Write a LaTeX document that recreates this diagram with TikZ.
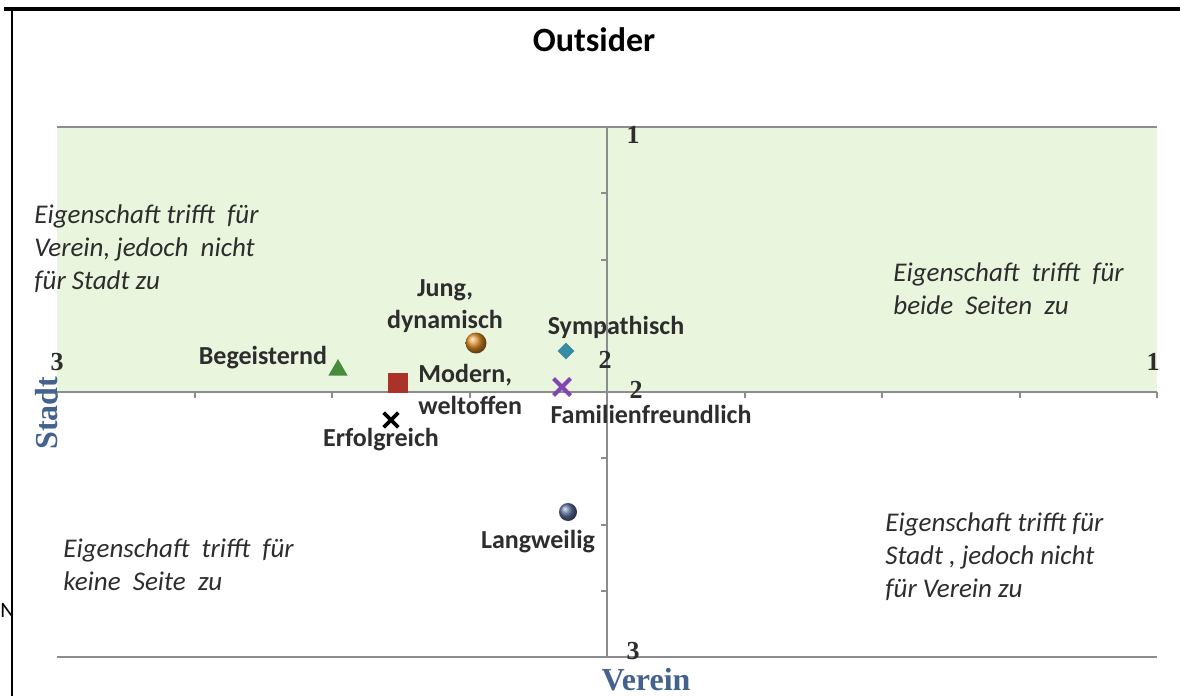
\documentclass[tikz,border=0pt]{standalone}
\usepackage{fontspec}
\setmainfont{Carlito}
\newfontfamily\axisfont{Liberation Serif}
\usepackage{tikz}
\usetikzlibrary{positioning}
\usetikzlibrary{shapes.geometric}
\usetikzlibrary{shapes.misc}

\definecolor{band}{RGB}{234,245,222}
\definecolor{axisgray}{RGB}{140,140,140}
\definecolor{axisblue}{RGB}{68,98,142}
\definecolor{labelgray}{RGB}{45,45,45}

\tikzset{
	lbl/.style={font=\fontsize{13}{16}\selectfont\bfseries, text=labelgray, inner sep=0pt, align=center},
	quad/.style={font=\fontsize{13.5}{16.5}\selectfont\itshape, text=labelgray, align=left, anchor=north west, inner sep=0pt},
	num/.style={font=\axisfont\fontsize{13}{13}\selectfont\bfseries, text=labelgray, inner sep=0pt},
	axlbl/.style={font=\axisfont\fontsize{16}{16}\selectfont\bfseries, text=axisblue, inner sep=0pt},
	axline/.style={draw=axisgray, line width=1pt},
}

\begin{document}
\begin{tikzpicture}[x=0.5pt,y=-0.5pt]
	\useasboundingbox (0,0) rectangle (1180,696);

	% Stray letter %
	\node (stray) [anchor=west, inner sep=0pt, font=\fontsize{11}{11}\selectfont] at (0,610) {N};
	% Frame %
	\draw [line width=1.6pt] (4,9) -- (1180,9);
	\draw [line width=1pt] (12,9) -- (12,696);
	% Title %
	\node (title) [font=\fontsize{17}{17}\selectfont\bfseries] at (594,40) {Outsider};

	% Band %
	\fill [band] (57,127) rectangle (1157,392);
	% Axes %
	\draw [axline] (57,127) -- (1157,127);
	\draw [axline] (57,657) -- (1157,657);
	\draw [axline] (57,392) -- (1157,392);
	\draw [axline] (607,127) -- (607,657);
	\foreach \i in {0,...,8} {
		\draw [axline] (57+137.5*\i,392) -- ++(0,6);
		\draw [axline] (607,127+66.25*\i) -- ++(-6,0);
	}
	% Axis numbers %
	\node (xleft) [num] at (57,362) {3};
	\node (xright) [num] at (1153,362) {1};
	\node (xmid) [num] at (605,360) {2};
	\node (ytop) [num] at (633,135) {1};
	\node (ymid) [num] at (636,390) {2};
	\node (ybot) [num] at (633,651) {3};
	\node (stadt) [axlbl, rotate=90] at (47,413) {Stadt};
	\node (verein) [axlbl] at (646,680) {Verein};

	% Quadrants %
	\node (qtl) [quad] at (34,204) {Eigenschaft trifft~ für\\Verein, jedoch~ nicht\\für Stadt zu};
	\node (qtr) [quad] at (893,262) {Eigenschaft~ trifft~ für\\beide~ Seiten~ zu};
	\node (qbl) [quad] at (63,538) {Eigenschaft~ trifft~ für\\keine~ Seite~ zu};
	\node (qbr) [quad] at (885,512) {Eigenschaft trifft für\\Stadt , jedoch nicht\\für Verein zu};

	% Markers %
	\node (mbeg) [regular polygon, regular polygon sides=3, fill={rgb,255:red,70;green,140;blue,60}, inner sep=0pt, minimum size=11pt] at (338,370) {};
	\node (mmod) [rectangle, fill={rgb,255:red,170;green,50;blue,40}, inner sep=0pt, minimum size=10pt] at (398,383) {};
	\node (mjung) [circle, ball color={rgb,255:red,220;green,140;blue,40}, inner sep=0pt, minimum size=10.5pt] at (476,343) {};
	\node (msym) [diamond, fill={rgb,255:red,55;green,140;blue,165}, inner sep=0pt, minimum size=8.5pt] at (566,351) {};
	\node (mfam) [cross out, draw={rgb,255:red,130;green,70;blue,180}, line width=2pt, inner sep=0pt, minimum size=6.5pt] at (562,387) {};
	\node (merf) [cross out, draw=black, line width=1.8pt, inner sep=0pt, minimum size=5.5pt] at (391,420) {};
	\node (mlang) [circle, ball color={rgb,255:red,90;green,110;blue,155}, inner sep=0pt, minimum size=9pt] at (568,512) {};

	% Labels %
	\node (tbeg) [lbl] at (263,358) {Begeisternd};
	\node (tjung) [lbl] at (445,306) {Jung,\\dynamisch};
	\node (tsym) [lbl] at (616,327) {Sympathisch};
	\node (tmod) [lbl, align=left, anchor=west] at (418,389) {Modern,\\weltoffen};
	\node (tfam) [lbl] at (651,414) {Familienfreundlich};
	\node (terf) [lbl] at (381,440) {Erfolgreich};
	\node (tlang) [lbl] at (538,542) {Langweilig};
\end{tikzpicture}
\end{document}
